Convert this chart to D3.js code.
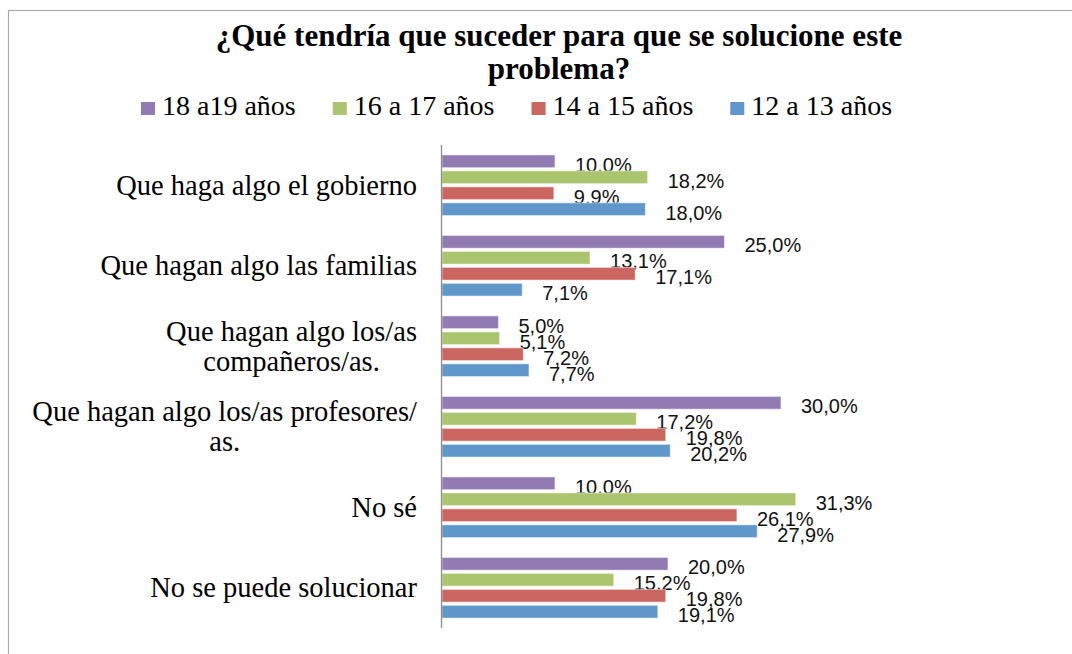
<!DOCTYPE html>
<html>
<head>
<meta charset="utf-8">
<script src="https://cdn.jsdelivr.net/npm/d3@7"></script>
<style>
  body { margin: 0; background: #fff; }
</style>
</head>
<body>
<div id="chart"></div>
<script>
var title_lines = ["¿Qué tendría que suceder para que se solucione este", "problema?"];
var categories = ["Que haga algo el gobierno", "Que hagan algo las familias", "Que hagan algo los/as\ncompañeros/as.", "Que hagan algo los/as profesores/\nas.", "No sé", "No se puede solucionar"];
var series = ["18 a19 años", "16 a 17 años", "14 a 15 años", "12 a 13 años"];
var colors = ["#927bb2", "#aac56d", "#cc6660", "#5f97ca"];
var v_18_19 = [10.0, 25.0, 5.0, 30.0, 10.0, 20.0];
var v_16_17 = [18.2, 13.1, 5.1, 17.2, 31.3, 15.2];
var v_14_15 = [9.9, 17.1, 7.2, 19.8, 26.1, 19.8];
var v_12_13 = [18.0, 7.1, 7.7, 20.2, 27.9, 19.1];
var values = [v_18_19, v_16_17, v_14_15, v_12_13];

var totalWidth = 1072, totalHeight = 654;
var svg = d3.select("#chart").append("svg")
    .attr("width", totalWidth)
    .attr("height", totalHeight);

// chart frame
svg.append("rect")
    .attr("x", 8.5).attr("y", 10.5)
    .attr("width", 1100).attr("height", 700)
    .attr("fill", "white")
    .attr("stroke", "#ababab")
    .attr("stroke-width", 1.2);

// title
svg.append("g").selectAll("text")
    .data(title_lines)
    .enter()
    .append("text")
    .attr("x", 559)
    .attr("y", function(d, i){ return 46 + i * 32.5; })
    .attr("text-anchor", "middle")
    .style("font-family", "'Liberation Serif', serif")
    .style("font-weight", "bold")
    .style("font-size", "31px")
    .text(function(d){ return d; });

// legend, items laid one after another
var legend = svg.append("g").selectAll("g")
    .data(series)
    .enter()
    .append("g");
legend.append("rect")
    .attr("y", 102)
    .attr("width", 14).attr("height", 13)
    .attr("fill", function(d, i){ return colors[i]; });
legend.append("text")
    .attr("x", 21).attr("y", 115)
    .style("font-family", "'Liberation Serif', serif")
    .style("font-size", "28px")
    .text(function(d){ return d; });
var lx = 141;
legend.each(function(){
    d3.select(this).attr("transform", "translate(" + lx + ",0)");
    lx += 21 + d3.select(this).select("text").node().getComputedTextLength() + 37;
});

var x_scale = d3.scaleLinear()
    .domain([0, 35])
    .range([442, 837.5]);
var y_scale = d3.scaleBand()
    .domain(categories)
    .range([145, 628]);
var s_scale = d3.scaleBand()
    .domain(series)
    .range([0, y_scale.bandwidth()])
    .paddingInner(0.2)
    .paddingOuter(0.62);

// category labels, wrapped lines centred in a right-aligned block
var cat = svg.append("g").selectAll("g")
    .data(categories)
    .enter()
    .append("g");
cat.each(function(c){
    var g = d3.select(this);
    var lines = c.split("\n");
    var cy = y_scale(c) + y_scale.bandwidth() / 2;
    var texts = g.selectAll("text")
        .data(lines)
        .enter()
        .append("text")
        .attr("y", function(d, i){ return cy + 9.5 - (lines.length - 1) * 15 + i * 30; })
        .attr("text-anchor", "middle")
        .style("font-family", "'Liberation Serif', serif")
        .style("font-size", "28.5px")
        .text(function(d){ return d; });
    var maxw = 0;
    texts.each(function(){ maxw = Math.max(maxw, this.getComputedTextLength()); });
    texts.attr("x", 417 - maxw / 2);
});

// bars
var groups = svg.append("g").selectAll("g")
    .data(series)
    .enter()
    .append("g")
    .attr("fill", function(d, i){ return colors[i]; });

groups.selectAll("rect")
    .data(function(s, si){ return categories.map(function(c, ci){ return {s: s, c: c, v: values[si][ci]}; }); })
    .enter()
    .append("rect")
    .attr("x", x_scale(0))
    .attr("y", function(d){ return y_scale(d.c) + s_scale(d.s); })
    .attr("width", function(d){ return x_scale(d.v) - x_scale(0); })
    .attr("height", s_scale.bandwidth())
    .attr("stroke", "rgba(255,255,255,0.55)")
    .attr("stroke-width", 1);

// data labels
groups.selectAll("text")
    .data(function(s, si){ return categories.map(function(c, ci){ return {s: s, c: c, v: values[si][ci]}; }); })
    .enter()
    .append("text")
    .attr("x", function(d){ return x_scale(d.v) + 20; })
    .attr("y", function(d){ return y_scale(d.c) + s_scale(d.s) + s_scale.bandwidth() / 2 + 10.5; })
    .attr("fill", "#111")
    .style("font-family", "'Liberation Sans', sans-serif")
    .style("font-size", "20px")
    .text(function(d){ return d.v.toFixed(1).replace(".", ",") + "%"; });

// vertical axis line
svg.append("line")
    .attr("x1", x_scale(0) - 0.5).attr("x2", x_scale(0) - 0.5)
    .attr("y1", y_scale.range()[0]).attr("y2", y_scale.range()[1])
    .attr("stroke", "#8c8c8c")
    .attr("stroke-width", 1.3);
</script>
</body>
</html>
